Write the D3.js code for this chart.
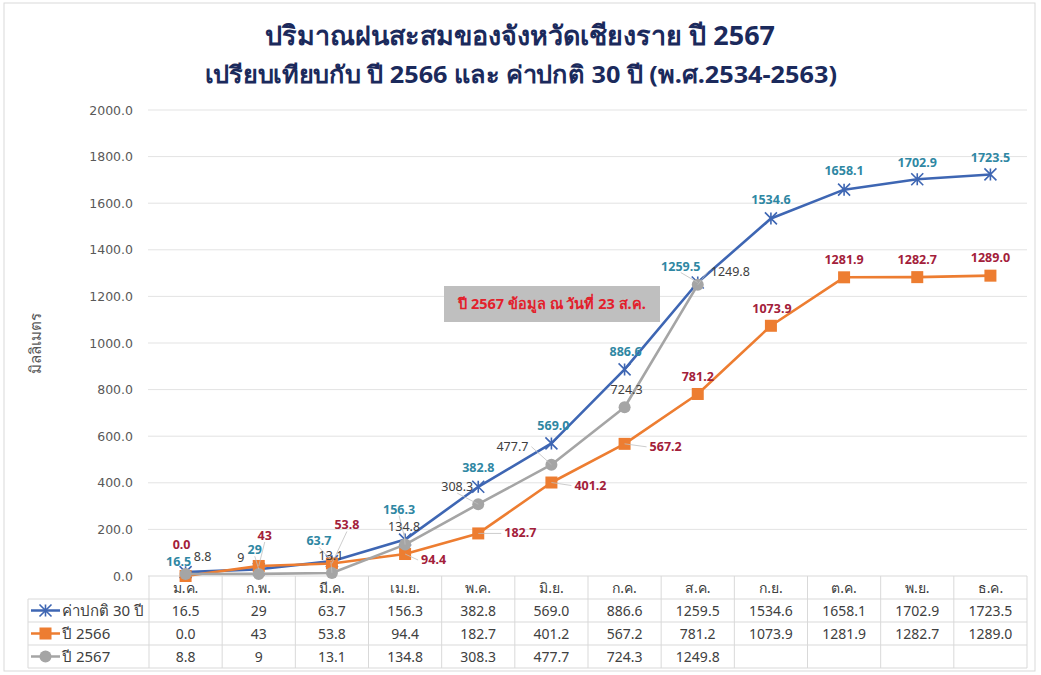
<!DOCTYPE html>
<html>
<head>
<meta charset="utf-8">
<script src="https://cdn.jsdelivr.net/npm/d3@7"></script>
<style>
  body { margin: 0; background: #fff; }
  text { font-family: "Noto Sans", "DejaVu Sans", sans-serif; }
</style>
</head>
<body>
<div id="chart"></div>
<script>
// data
const months = ["ม.ค.", "ก.พ.", "มี.ค.", "เม.ย.", "พ.ค.", "มิ.ย.", "ก.ค.", "ส.ค.", "ก.ย.", "ต.ค.", "พ.ย.", "ธ.ค."];
const seriesNames = ["ค่าปกติ 30 ปี", "ปี 2566", "ปี 2567"];
const normalText = ["16.5", "29", "63.7", "156.3", "382.8", "569.0", "886.6", "1259.5", "1534.6", "1658.1", "1702.9", "1723.5"];
const y2566Text = ["0.0", "43", "53.8", "94.4", "182.7", "401.2", "567.2", "781.2", "1073.9", "1281.9", "1282.7", "1289.0"];
const y2567Text = ["8.8", "9", "13.1", "134.8", "308.3", "477.7", "724.3", "1249.8"];
const yTicks = [0, 200, 400, 600, 800, 1000, 1200, 1400, 1600, 1800, 2000];
const note = "ปี 2567 ข้อมูล ณ วันที่ 23 ส.ค.";

// label placement (dx, dy, anchor, leader)
const normalPos = [[-7,-10,"middle"],[-4,-19,"middle",1],[-13,-20,"middle",1],[-6,-30,"middle",1],[0,-19,"middle"],[2,-17,"middle"],[1,-17,"middle"],[-17,-16,"middle",1],[0,-18,"middle"],[0,-19,"middle"],[0,-16,"middle"],[0,-16,"middle"]];
const p2566Pos = [[-4,-31,"middle"],[6,-30,"middle",1],[15,-38,"middle",1],[16,6,"start",1],[26,0,"start",1],[23,3,"start",1],[25,3,"start",1],[0,-17,"middle"],[1,-17,"middle"],[0,-17,"middle"],[0,-17,"middle"],[0,-18,"middle"]];
const p2567Pos = [[17,-17,"middle"],[-18,-16,"middle"],[-1,-17,"middle",1],[-1,-18,"middle",1],[-21,-17,"middle",1],[-23,-18,"end",1],[2,-17,"middle"],[13,-13,"start",1]];

const width = 1041, height = 675;
const svg = d3.select("#chart").append("svg")
  .attr("width", width).attr("height", height);

svg.append("rect").attr("x", 4).attr("y", 3).attr("width", 1031).attr("height", 668)
  .attr("fill", "#fff").attr("stroke", "#d9d9d9");

const x = d3.scaleBand().domain(months).range([149, 1027]);
const y = d3.scaleLinear().domain([0, 2000]).range([576, 110]);
const cx = m => x(m) + x.bandwidth() / 2;

// titles
svg.append("text").attr("x", 520).attr("y", 45).attr("text-anchor", "middle")
  .attr("font-size", 27).attr("font-weight", "bold").attr("fill", "#1b2a5c")
  .attr("textLength", 510).attr("lengthAdjust", "spacingAndGlyphs")
  .text("ปริมาณฝนสะสมของจังหวัดเชียงราย ปี 2567");
svg.append("text").attr("x", 521).attr("y", 83).attr("text-anchor", "middle")
  .attr("font-size", 24).attr("font-weight", "bold").attr("fill", "#1b2a5c")
  .attr("textLength", 632).attr("lengthAdjust", "spacingAndGlyphs")
  .text("เปรียบเทียบกับ ปี 2566 และ ค่าปกติ 30 ปี (พ.ศ.2534-2563)");

// grid + y ticks
svg.append("g").selectAll("line").data(yTicks.slice(1)).join("line")
  .attr("x1", 148).attr("x2", 1027).attr("y1", d => y(d)).attr("y2", d => y(d))
  .attr("stroke", "#e3e3e3");
svg.append("g").selectAll("text").data(yTicks).join("text")
  .attr("x", 133).attr("y", d => y(d) + 4.5).attr("text-anchor", "end")
  .style("font-family", "'DejaVu Sans', sans-serif")
  .attr("font-size", 12.5).attr("fill", "#595959")
  .text(d => d3.format(".1f")(d));
svg.append("text").attr("transform", "translate(41,343) rotate(-90)")
  .attr("text-anchor", "middle").attr("font-size", 15).attr("fill", "#595959")
  .text("มิลลิเมตร");

// table
const rowY = [576, 599, 622, 645, 668];
const tg = svg.append("g").attr("stroke", "#d9d9d9").attr("fill", "none");
tg.append("line").attr("x1", 148).attr("x2", 1027).attr("y1", rowY[0]).attr("y2", rowY[0]);
rowY.slice(1).forEach(r => tg.append("line").attr("x1", 28).attr("x2", 1027).attr("y1", r).attr("y2", r));
tg.append("line").attr("x1", 28).attr("x2", 28).attr("y1", rowY[1]).attr("y2", rowY[4]);
months.forEach(m => tg.append("line").attr("x1", x(m)).attr("x2", x(m)).attr("y1", rowY[0]).attr("y2", rowY[4]));
tg.append("line").attr("x1", 1027).attr("x2", 1027).attr("y1", rowY[0]).attr("y2", rowY[4]);

svg.append("g").selectAll("text").data(months).join("text")
  .attr("x", cx).attr("y", 593).attr("text-anchor", "middle")
  .attr("font-size", 14).attr("fill", "#404040").text(d => d);

const series = [
  { name: seriesNames[0], text: normalText, color: "#3e66b3", lab: "#2f87a3", weight: "bold", pos: normalPos, marker: "star" },
  { name: seriesNames[1], text: y2566Text, color: "#ed7d31", lab: "#a3203a", weight: "bold", pos: p2566Pos, marker: "square" },
  { name: seriesNames[2], text: y2567Text, color: "#a5a5a5", lab: "#404040", weight: "normal", pos: p2567Pos, marker: "circle" }
];
series.forEach(s => { s.values = s.text.map(Number); });

function drawMarker(g, type, color, px, py) {
  if (type === "square") {
    g.append("rect").attr("x", px - 6).attr("y", py - 6).attr("width", 12).attr("height", 12).attr("fill", color);
  } else if (type === "circle") {
    g.append("circle").attr("cx", px).attr("cy", py).attr("r", 6).attr("fill", color);
  } else {
    const r = 6;
    g.append("path")
      .attr("d", `M${px - r},${py - r}L${px + r},${py + r}M${px - r},${py + r}L${px + r},${py - r}M${px},${py - r}L${px},${py + r}`)
      .attr("stroke", color).attr("stroke-width", 1.6);
  }
}

series.forEach((s, si) => {
  const ry = (rowY[si + 1] + rowY[si + 2]) / 2;
  // legend key in table
  const lg = svg.append("g");
  lg.append("line").attr("x1", 31).attr("x2", 60).attr("y1", ry).attr("y2", ry)
    .attr("stroke", s.color).attr("stroke-width", 2.5);
  drawMarker(lg, s.marker, s.color, 45.5, ry);
  lg.append("text").attr("x", 62).attr("y", ry + 5).attr("font-size", 15).attr("fill", "#404040").text(s.name);
  svg.append("g").selectAll("text").data(s.text).join("text")
    .attr("x", (d, i) => cx(months[i])).attr("y", ry + 5).attr("text-anchor", "middle")
    .attr("font-size", 14).attr("fill", "#404040").text(d => d);
});

const line = d3.line().x((d, i) => cx(months[i])).y(d => y(d));

// series lines in series order (2567 on top)
series.forEach(s => {
  svg.append("path").datum(s.values).attr("d", line)
    .attr("fill", "none").attr("stroke", s.color).attr("stroke-width", 2.6)
    .attr("stroke-linejoin", "round");
  const mg = svg.append("g");
  s.values.forEach((v, i) => drawMarker(mg, s.marker, s.color, cx(months[i]), y(v)));
});

// data labels
series.forEach(s => {
  const g = svg.append("g");
  s.values.forEach((v, i) => {
    const [dx, dy, anchor, leader] = s.pos[i];
    const px = cx(months[i]), py = y(v);
    if (leader) {
      let lx = px + dx, ly = py + dy;
      if (anchor === "start") lx -= 3;
      else if (anchor === "end") lx += 3;
      else ly += dy < 0 ? 6 : -6;
      g.append("line").attr("x1", px).attr("y1", py).attr("x2", lx).attr("y2", ly)
        .attr("stroke", "#bfbfbf").attr("stroke-width", 0.8);
    }
    g.append("text").attr("x", px + dx).attr("y", py + dy + 4)
      .attr("text-anchor", anchor).attr("font-size", 12.5)
      .attr("font-weight", s.weight).attr("fill", s.lab).text(s.text[i]);
  });
});

// note box
svg.append("rect").attr("x", 444).attr("y", 286).attr("width", 216).attr("height", 36).attr("fill", "#bfbfbf");
svg.append("text").attr("x", 552).attr("y", 309).attr("text-anchor", "middle")
  .attr("font-size", 14.5).attr("font-weight", "bold").attr("fill", "#e3202b").text(note);
</script>
</body>
</html>
